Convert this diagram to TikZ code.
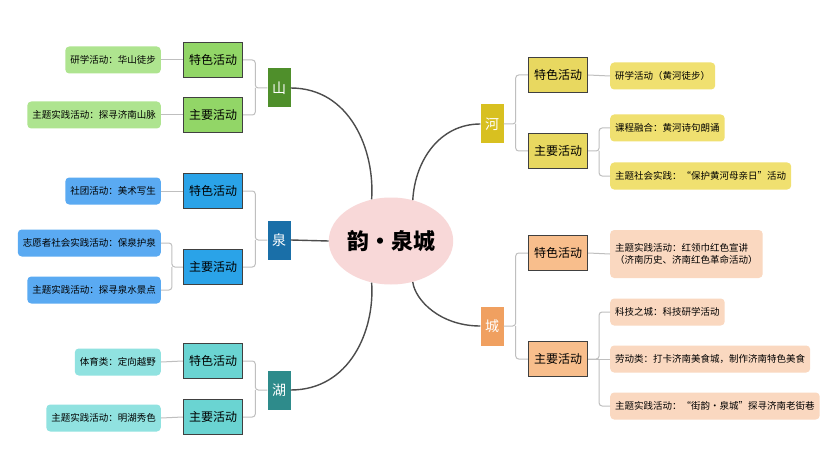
\documentclass[tikz,border=0pt]{standalone}
\usepackage{fontspec}
\setmainfont{Noto Sans CJK SC}
\usetikzlibrary{shapes.geometric}
\begin{document}
\begin{tikzpicture}[x=1pt,y=-1pt,
  cat/.style={draw=black!75,line width=1.2pt,minimum width=59pt,minimum height=35pt,inner sep=0pt,font=\fontsize{12}{14}\selectfont},
  leaf/.style={rounded corners=4pt,minimum height=27pt,inner xsep=5pt,inner ysep=2pt,font=\fontsize{9.5}{12.5}\selectfont,align=left},
  key/.style={minimum width=23pt,minimum height=39pt,inner sep=0pt,text=white,font=\fontsize{14}{16}\selectfont},
  main/.style={draw=black!70,line width=1.4pt},
  tree/.style={draw=black!25,line width=1pt,rounded corners=3pt}]
\fill[white] (0,0) rectangle (830,476);
\definecolor{gA}{HTML}{4F8F2B}\definecolor{gB}{HTML}{92D667}\definecolor{gC}{HTML}{AEE48F}
\definecolor{bA}{HTML}{1A6FA8}\definecolor{bB}{HTML}{2AA3E8}\definecolor{bC}{HTML}{5AAAF2}
\definecolor{tA}{HTML}{2E8B8B}\definecolor{tB}{HTML}{6AD4D2}\definecolor{tC}{HTML}{90E2E0}
\definecolor{yA}{HTML}{D8C020}\definecolor{yB}{HTML}{E8D860}\definecolor{yC}{HTML}{F0E070}
\definecolor{oA}{HTML}{F0A060}\definecolor{oB}{HTML}{F8BE8C}\definecolor{oC}{HTML}{FAD8C0}
\definecolor{pk}{HTML}{F8D8D8}
\node[ellipse,fill=pk,minimum width=98pt,minimum height=87pt,inner sep=0pt,font=\fontsize{22}{24}\selectfont\bfseries] (c) at (391,241) {韵·泉城};
% left
\node[key,fill=gA] (shan) at (279,88) {山};
\node[cat,fill=gB] (s1) at (213,60) {特色活动};
\node[cat,fill=gB] (s2) at (213,115) {主要活动};
\node[leaf,fill=gC,anchor=east] (s1a) at (161,60) {研学活动：华山徒步};
\node[leaf,fill=gC,anchor=east] (s2a) at (161,115) {主题实践活动：探寻济南山脉};
\node[key,fill=bA] (quan) at (279,240) {泉};
\node[cat,fill=bB] (q1) at (213,191) {特色活动};
\node[cat,fill=bB] (q2) at (213,267) {主要活动};
\node[leaf,fill=bC,anchor=east] (q1a) at (161,191) {社团活动：美术写生};
\node[leaf,fill=bC,anchor=east] (q2a) at (161,243) {志愿者社会实践活动：保泉护泉};
\node[leaf,fill=bC,anchor=east] (q2b) at (161,290) {主题实践活动：探寻泉水景点};
\node[key,fill=tA] (hu) at (279,390) {湖};
\node[cat,fill=tB] (h1) at (213,361) {特色活动};
\node[cat,fill=tB] (h2) at (213,417) {主要活动};
\node[leaf,fill=tC,anchor=east] (h1a) at (161,362) {体育类：定向越野};
\node[leaf,fill=tC,anchor=east] (h2a) at (161,418) {主题实践活动：明湖秀色};
% right
\node[key,fill=yA] (he) at (492,124) {河};
\node[cat,fill=yB] (r1) at (558,75) {特色活动};
\node[cat,fill=yB] (r2) at (558,151) {主要活动};
\node[leaf,fill=yC,anchor=west] (r1a) at (610,76) {研学活动（黄河徒步）};
\node[leaf,fill=yC,anchor=west] (r2a) at (610,128) {课程融合：黄河诗句朗诵};
\node[leaf,fill=yC,anchor=west] (r2b) at (610,176) {主题社会实践：“保护黄河母亲日”活动};
\node[key,fill=oA] (cheng) at (492,326) {城};
\node[cat,fill=oB] (k1) at (558,253) {特色活动};
\node[cat,fill=oB] (k2) at (558,359) {主要活动};
\node[leaf,fill=oC,anchor=west,minimum height=48pt] (k1a) at (610,254) {主题实践活动：红领巾红色宣讲\\（济南历史、济南红色革命活动）};
\node[leaf,fill=oC,anchor=west] (k2a) at (610,312) {科技之城：科技研学活动};
\node[leaf,fill=oC,anchor=west] (k2b) at (610,359) {劳动类：打卡济南美食城，制作济南特色美食};
\node[leaf,fill=oC,anchor=west] (k2c) at (610,406) {主题实践活动：“街韵·泉城”探寻济南老街巷};
% main curves
\draw[main] (shan.east) .. controls (350,88) and (375,150) .. (c.115);
\draw[main] (quan.east) -- (c.west);
\draw[main] (hu.east) .. controls (350,390) and (375,330) .. (c.245);
\draw[main] (he.west) .. controls (440,124) and (415,160) .. (c.62);
\draw[main] (cheng.west) .. controls (440,326) and (415,300) .. (c.298);
% trees
\draw[tree] (shan.west) -- ++(-12,0) |- (s1.east); \draw[tree] (shan.west) ++(-12,0) |- (s2.east);
\draw[tree] (s1.west) -- (s1a.east); \draw[tree] (s2.west) -- (s2a.east);
\draw[tree] (quan.west) -- ++(-12,0) |- (q1.east); \draw[tree] (quan.west) ++(-12,0) |- (q2.east);
\draw[tree] (q1.west) -- (q1a.east);
\draw[tree] (q2.west) -- ++(-11,0) |- (q2a.east); \draw[tree] (q2.west) ++(-11,0) |- (q2b.east);
\draw[tree] (hu.west) -- ++(-12,0) |- (h1.east); \draw[tree] (hu.west) ++(-12,0) |- (h2.east);
\draw[tree] (h1.west) -- (h1a.east); \draw[tree] (h2.west) -- (h2a.east);
\draw[tree] (he.east) -- ++(12,0) |- (r1.west); \draw[tree] (he.east) ++(12,0) |- (r2.west);
\draw[tree] (r1.east) -- (r1a.west);
\draw[tree] (r2.east) -- ++(11,0) |- (r2a.west); \draw[tree] (r2.east) ++(11,0) |- (r2b.west);
\draw[tree] (cheng.east) -- ++(12,0) |- (k1.west); \draw[tree] (cheng.east) ++(12,0) |- (k2.west);
\draw[tree] (k1.east) -- (k1a.west);
\draw[tree] (k2.east) -- ++(11,0) |- (k2a.west); \draw[tree] (k2.east) ++(11,0) |- (k2c.west);
\draw[tree] (k2.east) -- (k2b.west);
\end{tikzpicture}
\end{document}
